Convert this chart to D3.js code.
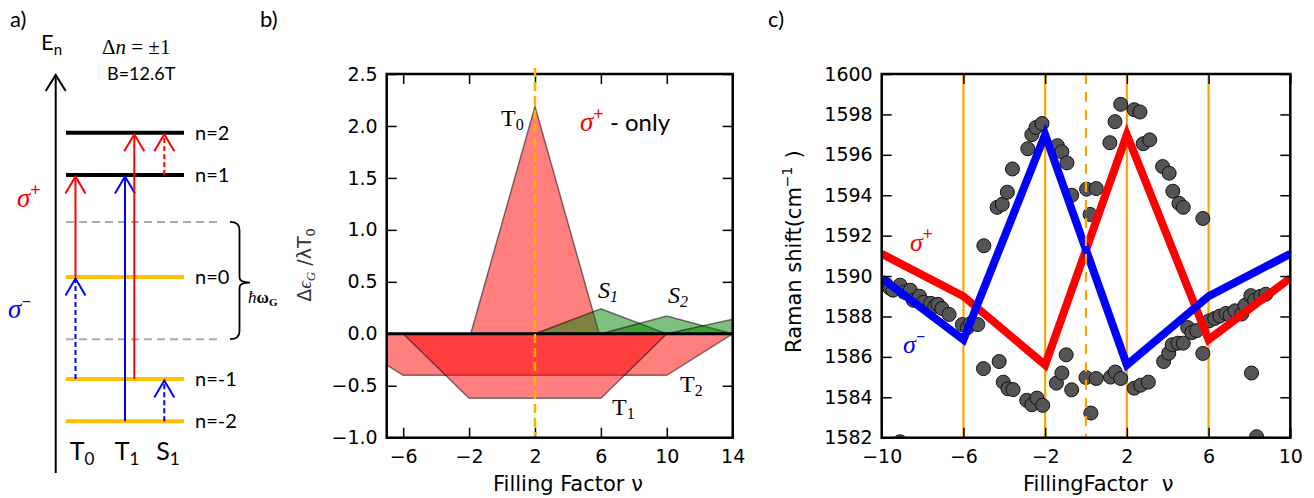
<!DOCTYPE html>
<html><head><meta charset="utf-8">
<script src="https://cdn.jsdelivr.net/npm/d3@7"></script>
<style>body{margin:0;background:#fff}svg{display:block}</style>
</head><body>
<svg id="chart" width="1314" height="498"></svg>
<script>
// ---------- Panel a : Landau level diagram ----------
const levelN = [2, 1, 0, -1, -2];
const levelE = [1.414, 1, 0, -1, -1.414];
const phononE = [0.54, -0.61];
const transGroup = ["T0", "T0", "T1", "T1", "S1", "S1"];
const transPol   = ["+", "-", "-", "+", "+", "-"];
const transFrom  = [0, -1, -2, -1, 1, -2];
const transTo    = [1, 0, 1, 2, 2, -1];
const transDash  = [false, true, false, false, true, true];
const groupLabels = ["T", "T", "S"];
const groupSubs   = ["0", "1", "1"];

// ---------- Panel b : Δε_G / λT0 vs filling factor ----------
const bTicksX = [-6, -2, 2, 6, 10, 14];
const bTicksY = [-1.0, -0.5, 0.0, 0.5, 1.0, 1.5, 2.0, 2.5];
const nuT0 = [-1.9, 2, 5.9],        valT0 = [0, 2.19, 0];
const nuT1 = [-6, -2, 6, 10],       valT1 = [0, -0.62, -0.62, 0];
const nuT2 = [-10, -6, 10, 14],     valT2 = [0, -0.4, -0.4, 0];
const nuS1 = [2, 6, 10],            valS1 = [0, 0.24, 0];
const nuS2 = [6, 10, 14],           valS2 = [0, 0.17, 0];
const nuS3 = [10, 14, 18],          valS3 = [0, 0.14, 0];

// ---------- Panel c : Raman shift vs filling factor ----------
const cTicksX = [-10, -6, -2, 2, 6, 10];
const cTicksY = [1582, 1584, 1586, 1588, 1590, 1592, 1594, 1596, 1598, 1600];
const nuLine = [-10, -6, -2, 2, 6, 10];
const sigmaPlus  = [1591.1, 1589.0, 1585.6, 1597.0, 1586.85, 1589.9];
const sigmaMinus = [1589.9, 1586.85, 1597.0, 1585.6, 1589.0, 1591.1];
const solidMarks = [-6, -2, 2, 6];
const dashedMarks = [0];
const dataNu = [
 -9.8,-9.6,-9.45,-9.1,-8.9,-8.6,-8.45,-8.15,-7.95,-7.6,-7.4,-7.25,-7.05,-6.7,-6.05,-5.8,-5.65,-5.3,-9.1,
 -5.0,-4.35,-4.1,-3.85,-3.6,-2.85,-2.65,-2.45,-2.15,-1.4,-1.18,-0.93,-0.7,0.03,0.5,0.2,1.17,1.42,1.7,2.36,2.64,2.8,3.12,3.75,4.07,4.25,4.55,4.76,5.72,
 -5.02,-4.25,-4.05,-3.82,-3.57,-2.9,-2.65,-2.4,-2.12,-1.45,-1.18,-0.97,-0.7,0.0,0.5,0.24,1.2,1.43,1.7,2.36,2.68,3.05,3.8,4.05,4.22,4.5,4.76,4.98,5.18,5.42,5.72,
 6.02,6.3,6.55,6.85,7.05,7.3,7.62,7.78,8.07,8.25,8.55,8.8,8.1,8.35
];
const dataShift = [
 1589.6,1589.4,1589.3,1589.55,1589.2,1589.3,1588.8,1589.0,1588.7,1588.65,1588.5,1588.6,1588.4,1588.1,1587.6,1587.45,1587.65,1587.6,1581.8,
 1591.5,1593.4,1593.55,1594.15,1595.3,1596.3,1597.0,1597.35,1597.55,1596.45,1596.15,1595.6,1594.0,1594.3,1594.33,1593.05,1596.6,1597.64,1598.5,1598.23,1598.12,1596.55,1596.74,1595.42,1595.09,1594.2,1593.6,1593.4,1592.85,
 1585.42,1585.77,1584.75,1584.42,1584.38,1583.85,1583.63,1583.96,1583.6,1584.7,1585.2,1586.1,1584.37,1584.98,1584.93,1583.22,1585.0,1585.25,1584.93,1584.45,1584.6,1584.75,1585.77,1586.18,1586.6,1586.68,1586.68,1587.45,1587.2,1587.3,1586.17,
 1587.78,1587.9,1588.02,1588.15,1588.05,1588.28,1588.12,1588.55,1589.03,1588.8,1589.0,1589.1,1585.2,1582.05
];

const svg = d3.select("#chart");
const SANS = "'DejaVu Sans', sans-serif";
const LATO = "Lato, 'Open Sans', sans-serif";
const SERIF = "'Liberation Serif', 'DejaVu Serif', serif";

// ======================= Panel a =========================
(function(){
  const g = svg.append("g");
  const yA = d3.scaleLinear().domain([-1, 1]).range([379, 175]);
  g.append("line").attr("x1", 55.7).attr("x2", 55.7).attr("y1", 473).attr("y2", 75)
    .attr("stroke", "#000").attr("stroke-width", 2);
  g.append("polyline").attr("points", "45.7,91 55.7,75 65.7,91")
    .attr("fill", "none").attr("stroke", "#000").attr("stroke-width", 2);
  g.selectAll(".ph").data(phononE).enter().append("line")
    .attr("x1", 66).attr("x2", 222).attr("y1", d => yA(d)).attr("y2", d => yA(d))
    .attr("stroke", "#aaa").attr("stroke-width", 2).attr("stroke-dasharray", "8,5");
  g.selectAll(".lv").data(levelE).enter().append("line")
    .attr("x1", 66).attr("x2", 184).attr("y1", d => yA(d)).attr("y2", d => yA(d))
    .attr("stroke", (d, i) => levelN[i] > 0 ? "#000" : "#ffc000").attr("stroke-width", 4);
  g.selectAll(".lvt").data(levelE).enter().append("text")
    .attr("x", 195).attr("y", d => yA(d) + 7)
    .attr("font-family", LATO).attr("font-size", 20)
    .text((d, i) => "n=" + levelN[i]);
  const yT = yA(phononE[0]), yB = yA(phononE[1]), yM = (yT + yB) / 2 + 2;
  g.append("path")
    .attr("d", `M230,${yT} Q239.5,${yT} 239.5,${yT+8} L239.5,${yM-5} Q239.5,${yM} 250,${yM} Q239.5,${yM} 239.5,${yM+5} L239.5,${yB-8} Q239.5,${yB} 230,${yB}`)
    .attr("fill", "none").attr("stroke", "#000").attr("stroke-width", 1.8);
  const hw = g.append("text").attr("x", 248).attr("y", 303).attr("font-family", SERIF).attr("font-size", 17).attr("font-weight", "bold");
  hw.append("tspan").attr("font-style", "italic").attr("font-weight", "normal").text("ħ");
  hw.append("tspan").text("ω");
  hw.append("tspan").attr("font-size", 11).attr("dy", 3).text("G");
  const colX = (grp, pol) => grp === "T0" ? 75.5 : grp === "T1" ? (pol === "-" ? 125 : 134.3) : 164.3;
  transGroup.forEach((grp, i) => {
    const x = colX(grp, transPol[i]);
    const col = transPol[i] === "+" ? "#ff0000" : "#0000ff";
    const y0 = yA(levelE[levelN.indexOf(transFrom[i])]);
    const y1 = yA(levelE[levelN.indexOf(transTo[i])]) + 1.5;
    g.append("line").attr("x1", x).attr("x2", x).attr("y1", y0).attr("y2", y1)
      .attr("stroke", col).attr("stroke-width", 2)
      .attr("stroke-dasharray", transDash[i] ? "5,3" : null);
    g.append("polyline").attr("points", `${x-10},${y1+17} ${x},${y1} ${x+10},${y1+17}`)
      .attr("fill", "none").attr("stroke", col).attr("stroke-width", 2);
  });
  [82, 127, 168].forEach((x, i) => {
    const t = g.append("text").attr("x", x).attr("y", 460).attr("text-anchor", "middle")
      .attr("font-family", LATO).attr("font-size", 25);
    t.append("tspan").text(groupLabels[i]);
    t.append("tspan").attr("font-size", 17).attr("dy", 5).text(groupSubs[i]);
  });
  const sp = g.append("text").attr("x", 17).attr("y", 207).attr("fill", "#ff0000");
  sp.append("tspan").attr("font-family", SERIF).attr("font-style", "italic").attr("font-size", 27).text("σ");
  sp.append("tspan").attr("font-family", LATO).attr("font-size", 18).attr("dy", -11).text("+");
  const sm = g.append("text").attr("x", 8).attr("y", 318).attr("fill", "#0000ff");
  sm.append("tspan").attr("font-family", SERIF).attr("font-style", "italic").attr("font-size", 27).text("σ");
  sm.append("tspan").attr("font-family", LATO).attr("font-size", 18).attr("dy", -11).text("−");
  const en = g.append("text").attr("x", 41).attr("y", 50).attr("font-family", LATO).attr("font-size", 22);
  en.append("tspan").text("E");
  en.append("tspan").attr("font-size", 15).attr("dy", 5).text("n");
  const dn = g.append("text").attr("x", 102).attr("y", 54).attr("font-family", SERIF).attr("font-size", 21);
  dn.append("tspan").text("Δ");
  dn.append("tspan").attr("font-style", "italic").text("n");
  dn.append("tspan").text(" = ±1");
  g.append("text").attr("x", 107).attr("y", 80).attr("font-family", LATO).attr("font-size", 18).text("B=12.6T");
  svg.append("text").attr("x", 10).attr("y", 27).attr("font-family", LATO).attr("font-size", 22).text("a)");
  svg.append("text").attr("x", 260).attr("y", 27).attr("font-family", LATO).attr("font-size", 22).text("b)");
  svg.append("text").attr("x", 768).attr("y", 27).attr("font-family", LATO).attr("font-size", 22).text("c)");
})();

function frameAxes(g, x, y, tx, ty, fmtX, fmtY, L, R, T, B) {
  const TS = 10;
  const ax = [
    g.append("g").attr("transform", `translate(0,${B})`).call(d3.axisBottom(x).tickValues(tx).tickFormat(fmtX).tickSizeInner(-TS).tickSizeOuter(0).tickPadding(12)),
    g.append("g").attr("transform", `translate(0,${T})`).call(d3.axisTop(x).tickValues(tx).tickFormat("").tickSizeInner(-TS).tickSizeOuter(0)),
    g.append("g").attr("transform", `translate(${L},0)`).call(d3.axisLeft(y).tickValues(ty).tickFormat(fmtY).tickSizeInner(-TS).tickSizeOuter(0).tickPadding(9)),
    g.append("g").attr("transform", `translate(${R},0)`).call(d3.axisRight(y).tickValues(ty).tickFormat("").tickSizeInner(-TS).tickSizeOuter(0))
  ];
  ax.forEach(a => {
    a.select(".domain").remove();
    a.selectAll(".tick line").attr("stroke", "#000").attr("stroke-width", 1.5);
    a.selectAll("text").attr("font-family", SANS).attr("font-size", 19).attr("fill", "#000");
  });
  g.append("rect").attr("x", L).attr("y", T).attr("width", R - L).attr("height", B - T)
    .attr("fill", "none").attr("stroke", "#000").attr("stroke-width", 2.5);
}

// ======================= Panel b =========================
(function(){
  const L = 386.7, R = 732.7, T = 74, B = 437.7;
  const x = d3.scaleLinear().domain([-7, 14]).range([L, R]);
  const y = d3.scaleLinear().domain([-1, 2.5]).range([B, T]);
  const g = svg.append("g");
  g.append("clipPath").attr("id", "clipB").append("rect").attr("x", L).attr("y", T).attr("width", R - L).attr("height", B - T);
  const pg = g.append("g").attr("clip-path", "url(#clipB)");
  const area = d3.line().x(d => x(d[0])).y(d => y(d[1]));
  const polys = [
    [nuT2, valT2, "rgba(255,0,0,0.5)"],
    [nuT1, valT1, "rgba(255,0,0,0.5)"],
    [nuT0, valT0, "rgba(255,0,0,0.5)"],
    [nuS1, valS1, "rgba(0,128,0,0.5)"],
    [nuS2, valS2, "rgba(0,128,0,0.5)"],
    [nuS3, valS3, "rgba(0,128,0,0.5)"]
  ];
  polys.forEach(([nu, val, col]) => {
    const pts = nu.map((n, i) => [n, val[i]]);
    pg.append("path").attr("d", area(pts) + "Z").attr("fill", col)
      .attr("stroke", "rgba(0,0,0,0.5)").attr("stroke-width", 1.5).attr("stroke-linejoin", "miter");
  });
  pg.append("line").attr("x1", L).attr("x2", R).attr("y1", y(0)).attr("y2", y(0))
    .attr("stroke", "#000").attr("stroke-width", 3);
  frameAxes(g, x, y, bTicksX, bTicksY, d3.format("d"), d3.format(".1f"), L, R, T, B);
  g.append("line").attr("x1", x(2)).attr("x2", x(2)).attr("y1", 68).attr("y2", 436)
    .attr("stroke", "#ffb000").attr("stroke-width", 2.5).attr("stroke-dasharray", "9,5");
  const t0 = g.append("text").attr("x", 501).attr("y", 126).attr("font-family", SERIF).attr("font-size", 24);
  t0.append("tspan").text("T"); t0.append("tspan").attr("font-size", 16).attr("dy", 4).text("0");
  const so = g.append("text").attr("x", 580).attr("y", 131);
  so.append("tspan").attr("fill", "#ff0000").attr("font-family", SERIF).attr("font-style", "italic").attr("font-size", 27).text("σ");
  so.append("tspan").attr("fill", "#ff0000").attr("font-family", LATO).attr("font-size", 18).attr("dy", -11).text("+");
  so.append("tspan").attr("font-family", LATO).attr("font-size", 24).attr("dy", 11).text(" - only");
  const lab = (xx, yy, s, sub, it) => {
    const t = g.append("text").attr("x", xx).attr("y", yy).attr("font-family", SERIF).attr("font-size", 24)
      .attr("font-style", it ? "italic" : null);
    t.append("tspan").text(s); t.append("tspan").attr("font-size", 16).attr("dy", 4).text(sub);
  };
  lab(598, 298, "S", "1", true);
  lab(668, 303, "S", "2", true);
  lab(680, 392, "T", "2", false);
  lab(612, 415, "T", "1", false);
  const yl = g.append("text").attr("transform", "translate(311,265) rotate(-90)").attr("text-anchor", "middle")
    .attr("font-family", SANS).attr("font-size", 19).attr("fill", "#333");
  yl.append("tspan").text("Δ");
  yl.append("tspan").attr("font-style", "italic").attr("font-family", SERIF).text("ϵ");
  yl.append("tspan").attr("font-style", "italic").attr("font-family", SERIF).attr("font-size", 13).attr("dy", 4).text("G");
  yl.append("tspan").attr("dy", -4).text(" /λT");
  yl.append("tspan").attr("font-size", 13).attr("dy", 4).text("0");
  g.append("text").attr("x", 493).attr("y", 491).attr("font-family", SANS).attr("font-size", 21).text("Filling Factor  ν");
})();

// ======================= Panel c =========================
(function(){
  const L = 881.7, R = 1290.3, T = 74, B = 437.7;
  const x = d3.scaleLinear().domain([-10, 10]).range([L, R]);
  const y = d3.scaleLinear().domain([1582, 1600]).range([B, T]);
  const g = svg.append("g");
  g.append("clipPath").attr("id", "clipC").append("rect").attr("x", L).attr("y", T).attr("width", R - L).attr("height", B - T);
  const pg = g.append("g").attr("clip-path", "url(#clipC)");
  pg.selectAll(".vs").data(solidMarks).enter().append("line")
    .attr("x1", d => x(d)).attr("x2", d => x(d)).attr("y1", T).attr("y2", B)
    .attr("stroke", "#ffa500").attr("stroke-width", 2.2);
  pg.selectAll(".pt").data(dataNu).enter().append("circle")
    .attr("cx", d => x(d)).attr("cy", (d, i) => y(dataShift[i])).attr("r", 7)
    .attr("fill", "#555").attr("stroke", "#111").attr("stroke-width", 1);
  const ln = d3.line().x(d => x(d[0])).y(d => y(d[1]));
  pg.append("path").attr("d", ln(nuLine.map((n, i) => [n, sigmaPlus[i]])))
    .attr("fill", "none").attr("stroke", "#ff0000").attr("stroke-width", 8).attr("stroke-linejoin", "miter");
  pg.append("path").attr("d", ln(nuLine.map((n, i) => [n, sigmaMinus[i]])))
    .attr("fill", "none").attr("stroke", "#0000ff").attr("stroke-width", 8).attr("stroke-linejoin", "miter");
  pg.selectAll(".vd").data(dashedMarks).enter().append("line")
    .attr("x1", d => x(d)).attr("x2", d => x(d)).attr("y1", T).attr("y2", B)
    .attr("stroke", "#ffa500").attr("stroke-width", 2.2).attr("stroke-dasharray", "10,8");
  frameAxes(g, x, y, cTicksX, cTicksY, d3.format("d"), d3.format("d"), L, R, T, B);
  const sp = g.append("text").attr("x", 910).attr("y", 251).attr("fill", "#ff0000");
  sp.append("tspan").attr("font-family", SERIF).attr("font-style", "italic").attr("font-size", 26).text("σ");
  sp.append("tspan").attr("font-family", LATO).attr("font-size", 17).attr("dy", -11).text("+");
  const sm = g.append("text").attr("x", 903).attr("y", 353).attr("fill", "#0000ff");
  sm.append("tspan").attr("font-family", SERIF).attr("font-style", "italic").attr("font-size", 26).text("σ");
  sm.append("tspan").attr("font-family", LATO).attr("font-size", 17).attr("dy", -11).text("−");
  const yl = g.append("text").attr("transform", "translate(801,353) rotate(-90)")
    .attr("font-family", SANS).attr("font-size", 21);
  yl.append("tspan").text("Raman shift(cm");
  yl.append("tspan").attr("font-size", 14).attr("dy", -9).text("−1");
  yl.append("tspan").attr("dy", 9).attr("dx", 8).text(")");
  const xl = g.append("text").attr("x", 1023).attr("y", 491).attr("font-family", SANS).attr("font-size", 21);
  xl.append("tspan").text("FillingFactor");
  xl.append("tspan").attr("dx", 14).text("ν");
})();
</script>
</body></html>
